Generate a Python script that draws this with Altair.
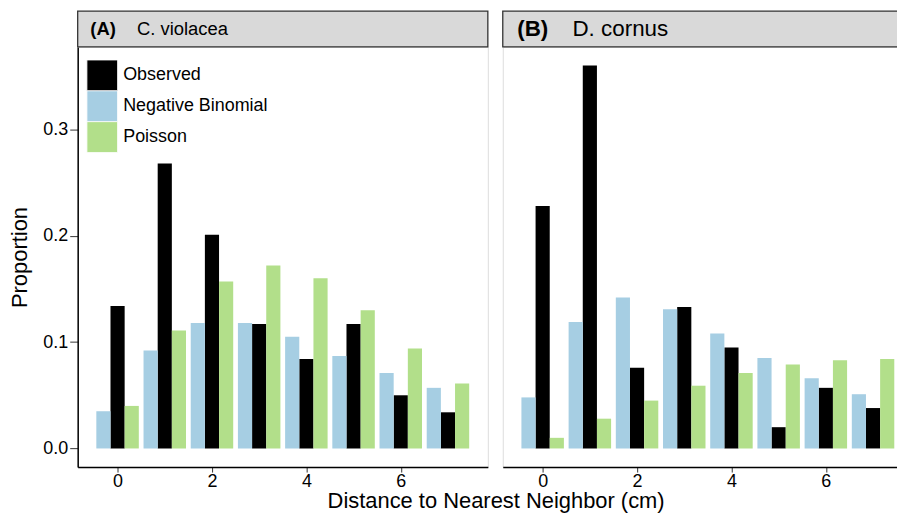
import altair as alt
import pandas as pd

# ---- data ----
distance = [0, 1, 2, 3, 4, 5, 6, 7]
series_names = ["Observed", "Negative Binomial", "Poisson"]
series_colors = ["#000000", "#A6CEE3", "#B2DF8A"]
panel_tags = ["(A)", "(B)"]
panel_names = ["C. violacea", "D. cornus"]

a_observed = [0.134, 0.268, 0.201, 0.117, 0.084, 0.117, 0.050, 0.034]
a_negbin = [0.035, 0.092, 0.118, 0.118, 0.105, 0.087, 0.071, 0.057]
a_poisson = [0.040, 0.111, 0.157, 0.172, 0.160, 0.130, 0.094, 0.061]

b_observed = [0.228, 0.360, 0.076, 0.133, 0.095, 0.020, 0.057, 0.038]
b_negbin = [0.048, 0.119, 0.142, 0.131, 0.108, 0.085, 0.066, 0.051]
b_poisson = [0.010, 0.028, 0.045, 0.059, 0.071, 0.079, 0.083, 0.084]

x_ticks = [0, 2, 4, 6]
y_ticks = [0.0, 0.1, 0.2, 0.3]

FONT = "Liberation Sans"
PLOT_W = 412
PLOT_H = 422
STRIP_H = 36
EDGE = "#333333"
X_DOMAIN = [-0.845, 7.845]
Y_DOMAIN = [-0.0175, 0.3775]


def panel_frame(obs, nb, pois):
    rows = []
    for s, vals in zip(series_names, [obs, nb, pois]):
        for d, v in zip(distance, vals):
            rows.append({"distance": d, "series": s, "value": v})
    return pd.DataFrame(rows)


def make_panel(df, tag, name, show_y, show_legend, tag_x, name_x, strip_fs):
    width = PLOT_W
    color_scale = alt.Scale(domain=series_names, range=series_colors)
    if show_legend:
        legend = alt.Legend(
            title=None, orient="none", legendX=8.7, legendY=13,
            symbolType="square", symbolSize=961, symbolStrokeColor="white",
            symbolStrokeWidth=1, symbolOpacity=1, rowPadding=0, padding=0,
            clipHeight=31,
            labelFontSize=18, labelFont=FONT, labelColor="black", labelOffset=5,
            labelLimit=300,
        )
    else:
        legend = None
    if show_y:
        y_axis = alt.Axis(
            values=y_ticks, format=".1f", title="Proportion", titleFontSize=22,
            titleFont=FONT, titleFontWeight="normal", titleColor="black",
            titlePadding=11, labelFontSize=18, labelFont=FONT, labelColor="black",
            tickSize=8, labelPadding=2, domainColor="black", domainWidth=1.5,
            tickColor=EDGE, grid=False,
        )
    else:
        y_axis = None

    bars = (
        alt.Chart(df)
        .transform_calculate(
            slot="datum.series == 'Negative Binomial' ? 0 : (datum.series == 'Observed' ? 1 : 2)"
        )
        .transform_calculate(x0="datum.distance - 0.45 + datum.slot * 0.3")
        .transform_calculate(x1="datum.x0 + 0.3")
        .mark_bar()
        .encode(
            x=alt.X(
                "x0:Q",
                scale=alt.Scale(domain=X_DOMAIN, nice=False, zero=False),
                axis=alt.Axis(
                    values=x_ticks, title=None, labelFontSize=18, labelFont=FONT,
                    labelColor="black", tickSize=5, labelPadding=1,
                    domainColor="black", domainWidth=1.5, tickColor=EDGE,
                    grid=False,
                ),
            ),
            x2="x1:Q",
            y=alt.Y(
                "value:Q",
                scale=alt.Scale(domain=Y_DOMAIN, nice=False, zero=False),
                axis=y_axis,
            ),
            y2=alt.datum(0),
            color=alt.Color("series:N", scale=color_scale, legend=legend),
        )
    )

    strip_df = pd.DataFrame({"tag": [tag], "name": [name]})
    base = alt.Chart(strip_df)
    strip = base.mark_rect(
        fill="#D9D9D9", stroke=EDGE, strokeWidth=1.3
    ).encode(
        x=alt.value(0), x2=alt.value(width),
        y=alt.value(-STRIP_H), y2=alt.value(0),
    )
    tag_text = base.mark_text(
        align="left", baseline="middle", font=FONT, fontSize=strip_fs,
        fontWeight="bold", color="black",
    ).encode(text="tag:N", x=alt.value(tag_x), y=alt.value(-STRIP_H / 2))
    name_text = base.mark_text(
        align="left", baseline="middle", font=FONT, fontSize=strip_fs,
        color="black",
    ).encode(text="name:N", x=alt.value(name_x), y=alt.value(-STRIP_H / 2))

    return alt.layer(bars, strip, tag_text, name_text).properties(
        width=width, height=PLOT_H
    )


df_a = panel_frame(a_observed, a_negbin, a_poisson)
df_b = panel_frame(b_observed, b_negbin, b_poisson)

panel_a = make_panel(df_a, panel_tags[0], panel_names[0], True, True, 12.7, 59.5, 18.5)
panel_b = make_panel(df_b, panel_tags[1], panel_names[1], False, False, 14.5, 70, 22.5)

chart = (
    alt.hconcat(panel_a, panel_b, spacing=11)
    .resolve_scale(x="independent", color="independent")
    .resolve_legend(color="independent")
    .properties(
        title=alt.TitleParams(
            "Distance to Nearest Neighbor (cm)", orient="bottom", anchor="middle",
            fontSize=22, font=FONT, fontWeight="normal", color="black", offset=0,
            dx=35,
        ),
        padding={"left": 0, "top": 0, "right": -18, "bottom": 0},
    )
    .configure_view(stroke=EDGE, strokeWidth=1)
    .configure(background="white")
)

chart.save("out.html", embed_options={"renderer": "svg", "actions": False})
